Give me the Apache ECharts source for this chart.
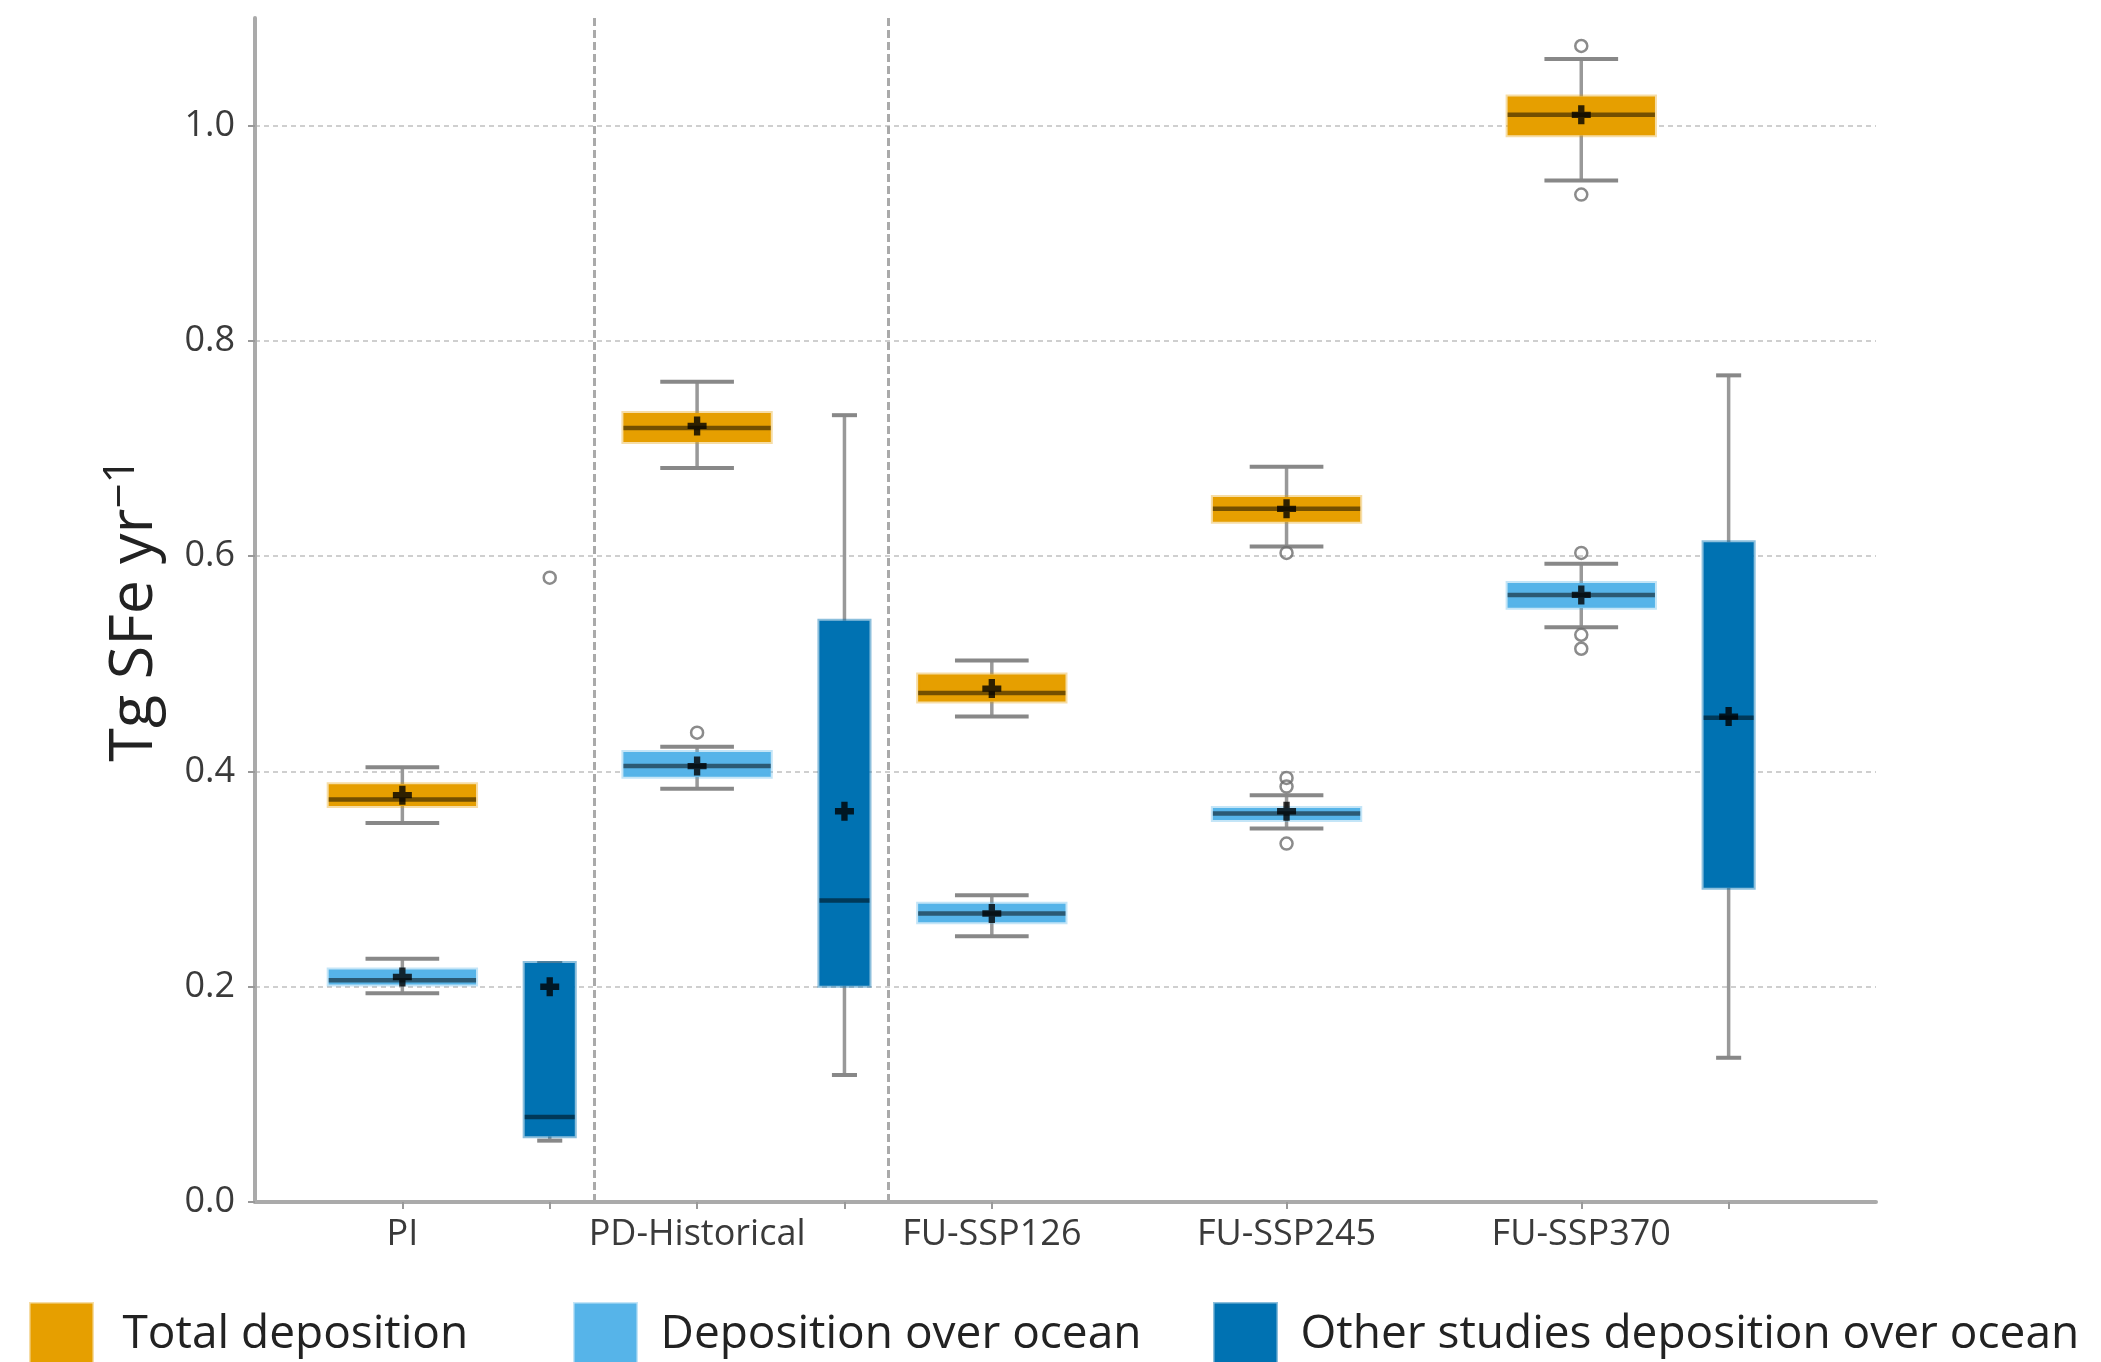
<!DOCTYPE html>
<html>
<head>
<meta charset="utf-8">
<script src="https://cdn.jsdelivr.net/npm/echarts@6/dist/echarts.min.js"></script>
<style>
html,body{margin:0;padding:0;background:#ffffff;}
#chart{width:2101px;height:1362px;}
</style>
</head>
<body>
<div id="chart"></div>
<script>
// ---------------- data ----------------
const categories = ['PI', 'PD-Historical', 'FU-SSP126', 'FU-SSP245', 'FU-SSP370'];

// [lower whisker, Q1, median, Q3, upper whisker]
const totalStats = [
  [0.352, 0.368, 0.374, 0.388, 0.404],
  [0.682, 0.706, 0.719, 0.733, 0.762],
  [0.451, 0.465, 0.473, 0.490, 0.503],
  [0.609, 0.632, 0.644, 0.655, 0.683],
  [0.949, 0.991, 1.010, 1.027, 1.062]
];
const totalMeans = [0.378, 0.721, 0.477, 0.644, 1.010];
const totalOutliers = [
  ['FU-SSP245', 0.603],
  ['FU-SSP370', 1.074],
  ['FU-SSP370', 0.936]
];

const oceanStats = [
  [0.194, 0.202, 0.206, 0.216, 0.226],
  [0.384, 0.395, 0.405, 0.418, 0.423],
  [0.247, 0.260, 0.268, 0.277, 0.285],
  [0.347, 0.355, 0.361, 0.366, 0.378],
  [0.534, 0.552, 0.564, 0.575, 0.593]
];
const oceanMeans = [0.209, 0.405, 0.268, 0.363, 0.564];
const oceanOutliers = [
  ['PD-Historical', 0.436],
  ['FU-SSP245', 0.394],
  ['FU-SSP245', 0.386],
  ['FU-SSP245', 0.333],
  ['FU-SSP370', 0.603],
  ['FU-SSP370', 0.527],
  ['FU-SSP370', 0.514]
];

const otherCategories = ['PI', 'PD-Historical', 'FU-SSP370'];
const otherStats = [
  [0.057, 0.061, 0.079, 0.222, 0.222],
  [0.118, 0.201, 0.280, 0.540, 0.731],
  [0.134, 0.292, 0.450, 0.613, 0.768]
];
const otherMeans = [0.200, 0.363, 0.451];
const otherOutliers = [
  ['PI', 0.580]
];

const yTickValues = [0.0, 0.2, 0.4, 0.6, 0.8, 1.0];
const seriesNames = ['Total deposition', 'Deposition over ocean', 'Other studies deposition over ocean'];

// ---------------- layout helpers ----------------
const modelPos = name => 2 * categories.indexOf(name);
const otherPos = name => 2 * categories.indexOf(name) + 1;
const separators = [1.3, 3.3];

const tickPositions = categories.map(modelPos)
  .concat(otherCategories.map(otherPos))
  .sort((a, b) => a - b);
const labelPositions = categories.map(modelPos);
const labelAt = {};
categories.forEach(c => { labelAt[modelPos(c)] = c; });

const COLORS = {
  total: '#E69F00', totalEdge: 'rgba(230,159,0,0.35)',
  ocean: '#56B4E9', oceanEdge: 'rgba(86,180,233,0.35)',
  other: '#0072B2', otherEdge: 'rgba(0,114,178,0.45)'
};

function boxRenderer(boxW, fill, edge) {
  return function (params, api) {
    const x = api.value(0);
    const lo = api.value(1), q1 = api.value(2), med = api.value(3), q3 = api.value(4), hi = api.value(5);
    const half = boxW / 2, capHalf = boxW / 4;
    const c = (a, b) => api.coord([a, b]);
    const wStyle = { stroke: '#999999', lineWidth: 3.5 };
    const capStyle = { stroke: '#888888', lineWidth: 4 };
    const kids = [];
    const line = (p1, p2, style) => ({ type: 'line', shape: { x1: p1[0], y1: p1[1], x2: p2[0], y2: p2[1] }, style: style });
    kids.push(line(c(x, q3), c(x, hi), wStyle));
    kids.push(line(c(x, q1), c(x, lo), wStyle));
    kids.push(line(c(x - capHalf, hi), c(x + capHalf, hi), capStyle));
    kids.push(line(c(x - capHalf, lo), c(x + capHalf, lo), capStyle));
    const tl = c(x - half, q3), br = c(x + half, q1);
    kids.push({
      type: 'rect',
      shape: { x: tl[0], y: tl[1], width: br[0] - tl[0], height: br[1] - tl[1] },
      style: { fill: fill, stroke: edge, lineWidth: 4 }
    });
    kids.push(line(c(x - half, med), c(x + half, med), { stroke: 'rgba(0,0,0,0.5)', lineWidth: 4.5 }));
    return { type: 'group', children: kids };
  };
}

const boxData = (stats, names, posFn) => stats.map((s, i) => [posFn(names[i])].concat(s));
const meanData = (means, names, posFn) => means.map((m, i) => [posFn(names[i]), m]);
const outData = (list, posFn) => list.map(o => [posFn(o[0]), o[1]]);

const plusPath = 'path://M1,0H2V1H3V2H2V3H1V2H0V1H1Z';

const outlierStyle = { color: 'rgba(255,255,255,0)', borderColor: '#6e6e6e', borderWidth: 2.5 };

const chart = echarts.init(document.getElementById('chart'), null, { renderer: 'canvas' });

const legendCommon = {
  orient: 'horizontal', top: 1297, itemWidth: 62, itemHeight: 62, icon: 'rect',
  selectedMode: false,
  textStyle: { fontSize: 46, color: '#222222', fontFamily: 'Open Sans', padding: [0, 0, 0, 25] }
};

chart.setOption({
  animation: false,
  backgroundColor: '#ffffff',
  grid: { left: 255, right: 225, top: 18, bottom: 160, containLabel: false },
  legend: [
    Object.assign({}, legendCommon, { left: 24, data: [seriesNames[0]], itemStyle: { borderColor: COLORS.totalEdge, borderWidth: 3 } }),
    Object.assign({}, legendCommon, { left: 568, data: [seriesNames[1]], itemStyle: { borderColor: COLORS.oceanEdge, borderWidth: 3 },
      textStyle: Object.assign({}, legendCommon.textStyle, { padding: [0, 0, 0, 19] }) }),
    Object.assign({}, legendCommon, { left: 1208, data: [seriesNames[2]], itemStyle: { borderColor: COLORS.otherEdge, borderWidth: 3 },
      textStyle: Object.assign({}, legendCommon.textStyle, { padding: [0, 0, 0, 19] }) })
  ],
  xAxis: {
    type: 'value', min: -1, max: 10,
    axisLine: { show: true, onZero: false, lineStyle: { color: '#aaaaaa', width: 4 } },
    axisTick: { show: true, length: 7, customValues: tickPositions, lineStyle: { color: '#999999', width: 2 } },
    axisLabel: {
      customValues: labelPositions, margin: 15,
      formatter: v => labelAt[v] || '',
      fontSize: 36, color: '#3a3a3a', fontFamily: 'Open Sans'
    },
    splitLine: { show: false }
  },
  yAxis: {
    type: 'value', min: 0, max: 1.1,
    name: 'Tg SFe yr{sup|−1}',
    nameLocation: 'middle', nameGap: 84, nameRotate: 90,
    nameTextStyle: {
      fontSize: 61, color: '#222222', fontFamily: 'Open Sans',
      rich: { sup: { fontSize: 44, color: '#222222', fontFamily: 'Open Sans', padding: [0, 0, 28, 0] } }
    },
    axisLine: { show: true, onZero: false, lineStyle: { color: '#aaaaaa', width: 4 } },
    axisTick: { show: true, length: 7, customValues: yTickValues, lineStyle: { color: '#999999', width: 2 } },
    axisLabel: {
      customValues: yTickValues, margin: 20,
      formatter: v => v.toFixed(1),
      fontSize: 36, color: '#3a3a3a', fontFamily: 'Open Sans'
    },
    splitLine: { show: true, lineStyle: { color: '#cfcfcf', width: 2, type: [5, 4] } }
  },
  series: [
    {
      name: seriesNames[0], type: 'custom', z: 2,
      itemStyle: { color: COLORS.total },
      renderItem: boxRenderer(1.0, COLORS.total, COLORS.totalEdge),
      encode: { x: 0, y: [1, 2, 3, 4, 5] },
      data: boxData(totalStats, categories, modelPos)
    },
    {
      name: seriesNames[1], type: 'custom', z: 2,
      itemStyle: { color: COLORS.ocean },
      renderItem: boxRenderer(1.0, COLORS.ocean, COLORS.oceanEdge),
      encode: { x: 0, y: [1, 2, 3, 4, 5] },
      data: boxData(oceanStats, categories, modelPos)
    },
    {
      name: seriesNames[2], type: 'custom', z: 2,
      itemStyle: { color: COLORS.other },
      renderItem: boxRenderer(0.34, COLORS.other, COLORS.otherEdge),
      encode: { x: 0, y: [1, 2, 3, 4, 5] },
      data: boxData(otherStats, otherCategories, otherPos)
    },
    {
      name: 'Total mean', type: 'scatter', z: 6, symbol: plusPath, symbolSize: 19,
      itemStyle: { color: '#000000' }, silent: true,
      data: meanData(totalMeans, categories, modelPos),
      markLine: {
        silent: true, symbol: 'none', label: { show: false },
        lineStyle: { color: '#aaaaaa', width: 3, type: [8, 4] },
        data: separators.map(s => ({ xAxis: s }))
      }
    },
    {
      name: 'Ocean mean', type: 'scatter', z: 6, symbol: plusPath, symbolSize: 19,
      itemStyle: { color: '#000000' }, silent: true,
      data: meanData(oceanMeans, categories, modelPos)
    },
    {
      name: 'Other mean', type: 'scatter', z: 6, symbol: plusPath, symbolSize: 19,
      itemStyle: { color: '#000000' }, silent: true,
      data: meanData(otherMeans, otherCategories, otherPos)
    },
    {
      name: 'Total outliers', type: 'scatter', z: 5, symbol: 'circle', symbolSize: 12,
      itemStyle: outlierStyle, silent: true,
      data: outData(totalOutliers, modelPos)
    },
    {
      name: 'Ocean outliers', type: 'scatter', z: 5, symbol: 'circle', symbolSize: 12,
      itemStyle: outlierStyle, silent: true,
      data: outData(oceanOutliers, modelPos)
    },
    {
      name: 'Other outliers', type: 'scatter', z: 5, symbol: 'circle', symbolSize: 12,
      itemStyle: outlierStyle, silent: true,
      data: outData(otherOutliers, otherPos)
    }
  ]
});
</script>
</body>
</html>
